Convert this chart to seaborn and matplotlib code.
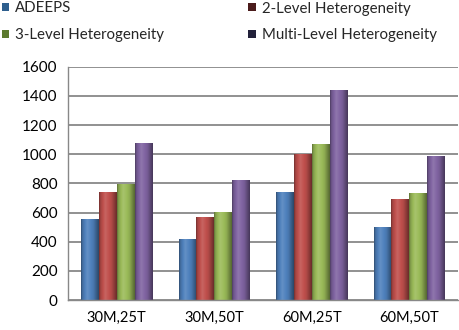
import numpy as np
import pandas as pd
import matplotlib
matplotlib.use("Agg")
import matplotlib.pyplot as plt
import seaborn as sns
from matplotlib.colors import to_rgb
from matplotlib.patches import Patch

categories = ["30M,25T", "30M,50T", "60M,25T", "60M,50T"]
series = ["ADEEPS", "2-Level Heterogeneity", "3-Level Heterogeneity", "Multi-Level Heterogeneity"]
adeeps = [553, 416, 738, 503]
two_level = [743, 567, 999, 693]
three_level = [795, 606, 1070, 736]
multi_level = [1075, 823, 1440, 990]
yticks = [0, 200, 400, 600, 800, 1000, 1200, 1400, 1600]

bar_colors = ["#4F81BD", "#C0504D", "#9BBB59", "#8064A2"]
legend_colors = ["#2E5F8E", "#4A1B1B", "#5C7A2E", "#22213A"]

rows = []
for s, vals in zip(series, [adeeps, two_level, three_level, multi_level]):
    for c, v in zip(categories, vals):
        rows.append({"Config": c, "Series": s, "Value": v})
df = pd.DataFrame(rows)

sns.set_theme(style="white")
plt.rcParams["font.family"] = ["Lato", "DejaVu Sans"]

fig = plt.figure(figsize=(4.59, 3.30), dpi=100)
ax = fig.add_axes([68 / 459, 1 - 300 / 330, 390 / 459, (300 - 66.7) / 330])

sns.barplot(data=df, x="Config", y="Value", hue="Series", hue_order=series,
            order=categories, palette=bar_colors, width=0.73, saturation=1,
            legend=False, ax=ax, errorbar=None, linewidth=0)

# gradient shading for bars
def shade(base, k):
    base = np.array(base)
    if k < 1:
        return base * k
    return base + (1 - base) * (k - 1)

t = np.linspace(0, 1, 64)
prof = np.interp(t, [0, 0.08, 0.35, 0.7, 1.0], [0.6, 0.85, 1.12, 0.92, 0.55])
for p in list(ax.patches):
    x0, y0 = p.get_x(), p.get_y()
    w, h = p.get_width(), p.get_height()
    base = to_rgb(p.get_facecolor())
    grad = np.array([[shade(base, k) for k in prof]])
    im = ax.imshow(grad, extent=[x0, x0 + w, y0, y0 + h], aspect="auto",
                   zorder=p.get_zorder() + 0.1, interpolation="bilinear")
    im.set_clip_path(p)

ax.set_xlim(-0.5, 3.5)
ax.set_ylim(0, 1600)
ax.set_yticks(yticks)
ax.set_yticklabels([str(v) for v in yticks])
ax.set_axisbelow(True)
ax.yaxis.grid(True, color="#888888", linewidth=1.3)
ax.xaxis.grid(False)
for s in ["top", "right"]:
    ax.spines[s].set_visible(False)
for s in ["left", "bottom"]:
    ax.spines[s].set_color("#888888")
    ax.spines[s].set_linewidth(1.0)
ax.set_xlabel("")
ax.set_ylabel("")
ax.set_xticks(np.arange(-0.5, 4, 1.0), minor=True)
ax.tick_params(axis="x", which="major", length=0, pad=8, labelsize=10.5, labelcolor="#000000")
ax.tick_params(axis="x", which="minor", length=4, direction="out", color="#888888", width=1)
ax.tick_params(axis="y", length=7, direction="inout", color="#888888", width=1, pad=4,
               labelsize=11, labelcolor="#000000")

order = [0, 2, 1, 3]
handles = [Patch(facecolor=legend_colors[i], edgecolor="none") for i in order]
labels = [series[i] for i in order]
fig.legend(handles, labels, loc="upper left", bbox_to_anchor=(0.0, 1.0), ncol=2,
           frameon=False, fontsize=10.8, handlelength=0.5, handleheight=0.5,
           handletextpad=0.4, columnspacing=5.6, labelspacing=0.85,
           borderaxespad=0, borderpad=0.1)

fig.savefig("out.png", dpi=100)
